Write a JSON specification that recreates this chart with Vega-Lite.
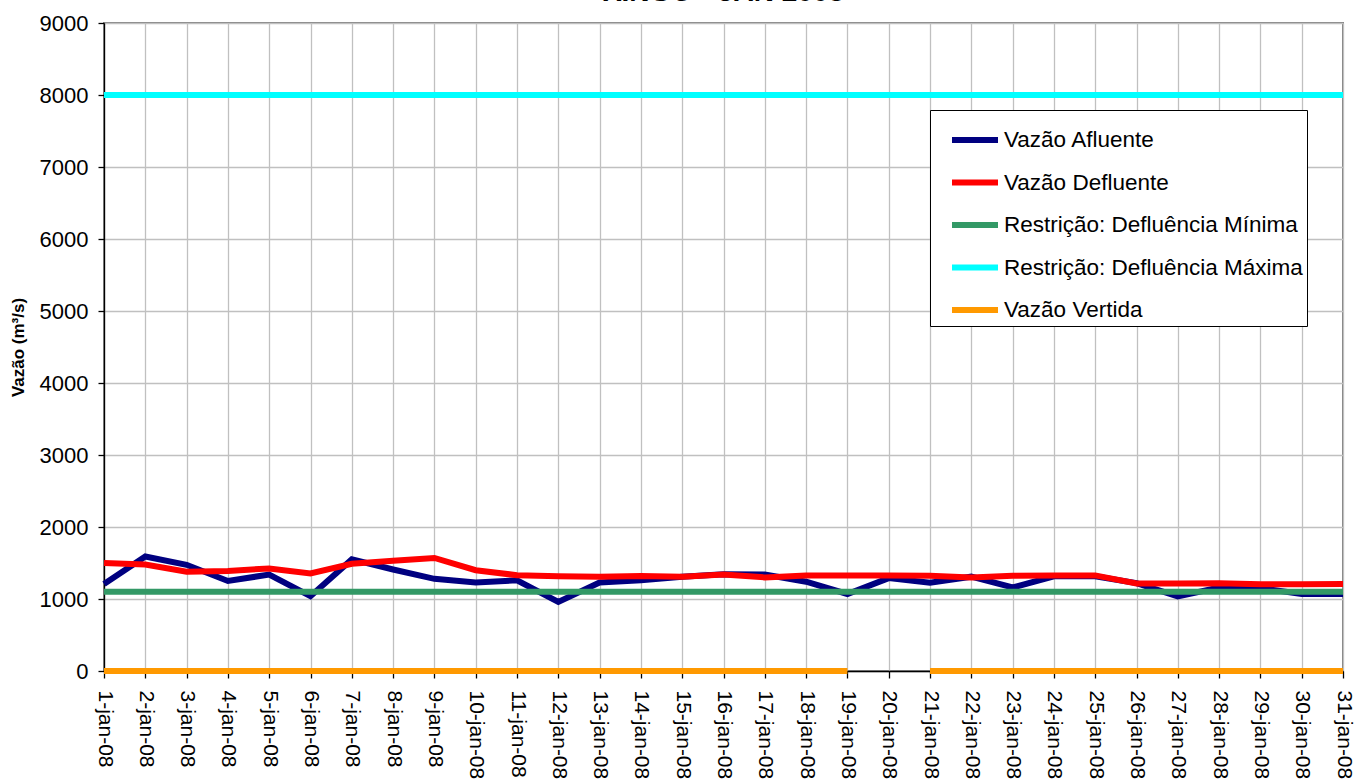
{
  "$schema": "https://vega.github.io/schema/vega-lite/v6.json",
  "autosize": "none",
  "width": 1239,
  "height": 648,
  "padding": {"left": 104, "top": 23, "right": 12, "bottom": 112},
  "background": "white",
  "config": {
    "font": "Liberation Sans",
    "view": {"stroke": "#808080", "strokeWidth": 2}
  },
  "title": {"text": "XINGÓ - JAN 2008", "fontSize": 28, "fontWeight": "bold", "color": "black", "offset": 5, "anchor": "middle"},
  "data": {
    "values": [
      {"dia": "1-jan-08", "Vazão Afluente": 1210, "Vazão Defluente": 1500, "Restrição: Defluência Mínima": 1100, "Restrição: Defluência Máxima": 8000, "Vazão Vertida": 0},
      {"dia": "2-jan-08", "Vazão Afluente": 1590, "Vazão Defluente": 1480, "Restrição: Defluência Mínima": 1100, "Restrição: Defluência Máxima": 8000, "Vazão Vertida": 0},
      {"dia": "3-jan-08", "Vazão Afluente": 1475, "Vazão Defluente": 1380, "Restrição: Defluência Mínima": 1100, "Restrição: Defluência Máxima": 8000, "Vazão Vertida": 0},
      {"dia": "4-jan-08", "Vazão Afluente": 1250, "Vazão Defluente": 1390, "Restrição: Defluência Mínima": 1100, "Restrição: Defluência Máxima": 8000, "Vazão Vertida": 0},
      {"dia": "5-jan-08", "Vazão Afluente": 1340, "Vazão Defluente": 1425, "Restrição: Defluência Mínima": 1100, "Restrição: Defluência Máxima": 8000, "Vazão Vertida": 0},
      {"dia": "6-jan-08", "Vazão Afluente": 1040, "Vazão Defluente": 1355, "Restrição: Defluência Mínima": 1100, "Restrição: Defluência Máxima": 8000, "Vazão Vertida": 0},
      {"dia": "7-jan-08", "Vazão Afluente": 1550, "Vazão Defluente": 1490, "Restrição: Defluência Mínima": 1100, "Restrição: Defluência Máxima": 8000, "Vazão Vertida": 0},
      {"dia": "8-jan-08", "Vazão Afluente": 1410, "Vazão Defluente": 1530, "Restrição: Defluência Mínima": 1100, "Restrição: Defluência Máxima": 8000, "Vazão Vertida": 0},
      {"dia": "9-jan-08", "Vazão Afluente": 1280, "Vazão Defluente": 1570, "Restrição: Defluência Mínima": 1100, "Restrição: Defluência Máxima": 8000, "Vazão Vertida": 0},
      {"dia": "10-jan-08", "Vazão Afluente": 1230, "Vazão Defluente": 1400, "Restrição: Defluência Mínima": 1100, "Restrição: Defluência Máxima": 8000, "Vazão Vertida": 0},
      {"dia": "11-jan-08", "Vazão Afluente": 1260, "Vazão Defluente": 1330, "Restrição: Defluência Mínima": 1100, "Restrição: Defluência Máxima": 8000, "Vazão Vertida": 0},
      {"dia": "12-jan-08", "Vazão Afluente": 960, "Vazão Defluente": 1315, "Restrição: Defluência Mínima": 1100, "Restrição: Defluência Máxima": 8000, "Vazão Vertida": 0},
      {"dia": "13-jan-08", "Vazão Afluente": 1230, "Vazão Defluente": 1310, "Restrição: Defluência Mínima": 1100, "Restrição: Defluência Máxima": 8000, "Vazão Vertida": 0},
      {"dia": "14-jan-08", "Vazão Afluente": 1260, "Vazão Defluente": 1318, "Restrição: Defluência Mínima": 1100, "Restrição: Defluência Máxima": 8000, "Vazão Vertida": 0},
      {"dia": "15-jan-08", "Vazão Afluente": 1310, "Vazão Defluente": 1310, "Restrição: Defluência Mínima": 1100, "Restrição: Defluência Máxima": 8000, "Vazão Vertida": 0},
      {"dia": "16-jan-08", "Vazão Afluente": 1345, "Vazão Defluente": 1340, "Restrição: Defluência Mínima": 1100, "Restrição: Defluência Máxima": 8000, "Vazão Vertida": 0},
      {"dia": "17-jan-08", "Vazão Afluente": 1340, "Vazão Defluente": 1300, "Restrição: Defluência Mínima": 1100, "Restrição: Defluência Máxima": 8000, "Vazão Vertida": 0},
      {"dia": "18-jan-08", "Vazão Afluente": 1240, "Vazão Defluente": 1328, "Restrição: Defluência Mínima": 1100, "Restrição: Defluência Máxima": 8000, "Vazão Vertida": 0},
      {"dia": "19-jan-08", "Vazão Afluente": 1070, "Vazão Defluente": 1328, "Restrição: Defluência Mínima": 1100, "Restrição: Defluência Máxima": 8000, "Vazão Vertida": 0},
      {"dia": "20-jan-08", "Vazão Afluente": 1290, "Vazão Defluente": 1328, "Restrição: Defluência Mínima": 1100, "Restrição: Defluência Máxima": 8000, "Vazão Vertida": null},
      {"dia": "21-jan-08", "Vazão Afluente": 1225, "Vazão Defluente": 1324, "Restrição: Defluência Mínima": 1100, "Restrição: Defluência Máxima": 8000, "Vazão Vertida": 0},
      {"dia": "22-jan-08", "Vazão Afluente": 1310, "Vazão Defluente": 1300, "Restrição: Defluência Mínima": 1100, "Restrição: Defluência Máxima": 8000, "Vazão Vertida": 0},
      {"dia": "23-jan-08", "Vazão Afluente": 1160, "Vazão Defluente": 1324, "Restrição: Defluência Mínima": 1100, "Restrição: Defluência Máxima": 8000, "Vazão Vertida": 0},
      {"dia": "24-jan-08", "Vazão Afluente": 1315, "Vazão Defluente": 1328, "Restrição: Defluência Mínima": 1100, "Restrição: Defluência Máxima": 8000, "Vazão Vertida": 0},
      {"dia": "25-jan-08", "Vazão Afluente": 1315, "Vazão Defluente": 1328, "Restrição: Defluência Mínima": 1100, "Restrição: Defluência Máxima": 8000, "Vazão Vertida": 0},
      {"dia": "26-jan-08", "Vazão Afluente": 1220, "Vazão Defluente": 1215, "Restrição: Defluência Mínima": 1100, "Restrição: Defluência Máxima": 8000, "Vazão Vertida": 0},
      {"dia": "27-jan-08", "Vazão Afluente": 1035, "Vazão Defluente": 1215, "Restrição: Defluência Mínima": 1100, "Restrição: Defluência Máxima": 8000, "Vazão Vertida": 0},
      {"dia": "28-jan-08", "Vazão Afluente": 1160, "Vazão Defluente": 1218, "Restrição: Defluência Mínima": 1100, "Restrição: Defluência Máxima": 8000, "Vazão Vertida": 0},
      {"dia": "29-jan-08", "Vazão Afluente": 1150, "Vazão Defluente": 1204, "Restrição: Defluência Mínima": 1100, "Restrição: Defluência Máxima": 8000, "Vazão Vertida": 0},
      {"dia": "30-jan-08", "Vazão Afluente": 1070, "Vazão Defluente": 1204, "Restrição: Defluência Mínima": 1100, "Restrição: Defluência Máxima": 8000, "Vazão Vertida": 0},
      {"dia": "31-jan-08", "Vazão Afluente": 1070, "Vazão Defluente": 1208, "Restrição: Defluência Mínima": 1100, "Restrição: Defluência Máxima": 8000, "Vazão Vertida": 0}
    ]
  },
  "transform": [
    {"fold": ["Vazão Afluente", "Vazão Defluente", "Restrição: Defluência Mínima", "Restrição: Defluência Máxima", "Vazão Vertida"], "as": ["serie", "valor"]}
  ],
  "mark": {"type": "line", "invalid": "break-paths-show-domains", "strokeCap": "butt"},
  "encoding": {
    "x": {
      "field": "dia", "type": "ordinal", "sort": null,
      "scale": {"type": "point", "padding": 0},
      "axis": {
        "title": null, "labelAngle": 90, "labelAlign": "left", "labelBaseline": "middle",
        "labelFontSize": 21, "labelColor": "black", "labelPadding": 12,
        "grid": true, "gridColor": "#C0C0C0", "gridWidth": 1.3,
        "tickColor": "black", "tickSize": 7, "tickWidth": 1.3,
        "domainColor": "black", "domainWidth": 1.3
      }
    },
    "y": {
      "field": "valor", "type": "quantitative",
      "scale": {"domain": [0, 9000], "nice": false},
      "axis": {
        "title": "Vazão (m³/s)", "titleFontSize": 17, "titleFontWeight": "bold", "titleColor": "black", "titlePadding": 12,
        "values": [0, 1000, 2000, 3000, 4000, 5000, 6000, 7000, 8000, 9000], "format": "d",
        "labelFontSize": 22, "labelColor": "black", "labelPadding": 10,
        "grid": true, "gridColor": "#C0C0C0", "gridWidth": 1.3,
        "tickColor": "black", "tickSize": 6, "tickWidth": 1.3,
        "domainColor": "black", "domainWidth": 1.3
      }
    },
    "strokeWidth": {
      "field": "serie", "type": "nominal", "legend": null,
      "scale": {
        "domain": ["Vazão Afluente", "Vazão Defluente", "Restrição: Defluência Mínima", "Restrição: Defluência Máxima", "Vazão Vertida"],
        "range": [6, 6, 6, 5, 4]
      }
    },
    "color": {
      "field": "serie", "type": "nominal",
      "scale": {
        "domain": ["Vazão Afluente", "Vazão Defluente", "Restrição: Defluência Mínima", "Restrição: Defluência Máxima", "Vazão Vertida"],
        "range": ["#000080", "#FF0000", "#339966", "#00FFFF", "#FF9900"]
      },
      "legend": {
        "title": null, "orient": "none", "legendX": 826, "legendY": 87,
        "symbolType": "stroke", "symbolSize": 2116, "symbolStrokeWidth": 5, "symbolOffset": 15,
        "labelFontSize": 22.5, "labelColor": "black", "labelOffset": 3, "labelLimit": 400,
        "rowPadding": 4.5, "padding": 4,
        "strokeColor": "black", "fillColor": "white"
      }
    }
  }
}
